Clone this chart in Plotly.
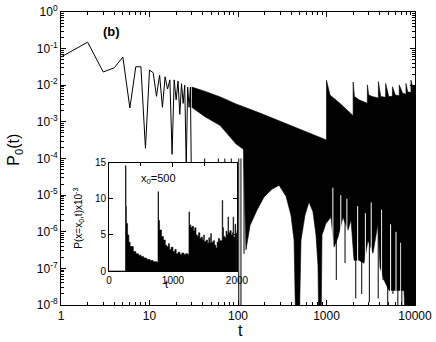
import numpy as np
import plotly.graph_objects as go

# early part of P0(t), one value per time step
t_early = list(range(1, 31))
p_early = [5.9e-2, 1.5e-1, 2.3e-2, 3.0e-2, 5.9e-2, 2.4e-3, 3.2e-2, 3.2e-2, 1.9e-4, 2.6e-2,
           2.2e-2, 5.0e-3, 1.9e-2, 2.5e-3, 1.7e-2, 7.9e-3, 1.4e-2, 1.3e-4, 1.4e-2, 4.0e-3,
           1.3e-2, 1.6e-3, 1.1e-2, 3.2e-3, 1.0e-2, 6.3e-5, 8.9e-3, 2.5e-3, 8.9e-3, 3.2e-6]

# dense part: upper envelope of the oscillations
upper_t = [30, 42, 63, 95, 177, 298, 502, 999, 1000, 1095, 1418, 1999, 2000, 2070, 2330,
           2890, 2900, 3000, 3300, 3850, 3860, 4100, 4650, 4665, 5050, 5550, 5560, 6000,
           6630, 6640, 7270, 7900, 7910, 8270, 8990, 9000, 9400, 10000]
upper_p = [8.9e-3, 6.9e-3, 4.8e-3, 3.1e-3, 1.74e-3, 1.05e-3, 6.3e-4, 3.2e-4, 1.38e-2, 5.4e-3,
           3.2e-3, 1.48e-3, 1.23e-2, 4.9e-3, 4.0e-3, 3.2e-3, 1.02e-2, 5.4e-3, 4.9e-3, 4.5e-3,
           1.26e-2, 4.9e-3, 4.7e-3, 1.12e-2, 4.9e-3, 5.0e-3, 9.1e-3, 5.4e-3, 5.2e-3, 1.02e-2,
           6.0e-3, 5.8e-3, 1.12e-2, 6.6e-3, 6.3e-3, 1.38e-2, 9.1e-3, 1.02e-2]

# lower envelope of the minima (1e-9 = runs off the bottom of the axis)
lower_t = [30, 42, 63, 95, 115, 123, 137, 164, 197, 242, 291, 349, 397, 430, 452, 489, 515,
           571, 634, 703, 761, 801, 823, 867, 889, 987, 1125, 1216, 1349, 1536, 1749, 1892,
           2046, 2330, 2653, 2943, 3352, 3818, 4024, 4464, 5085, 7509, 7913, 10000]
lower_p = [2.5e-3, 1.4e-3, 7.9e-4, 2.5e-4, 1.8e-4, 3.2e-7, 1.5e-6, 3.9e-6, 8.9e-6, 1.45e-5,
           1.86e-5, 9.3e-6, 2.8e-6, 5.9e-7, 1e-9, 1e-9, 5.9e-7, 2.8e-6, 6.5e-6, 3.5e-6,
           8.1e-7, 1.2e-7, 1e-9, 1e-9, 8.1e-7, 1.7e-6, 2.5e-6, 3.8e-7, 7.1e-7, 2.5e-6,
           1.1e-6, 2.1e-6, 1.66e-7, 1.66e-7, 1.38e-7, 5.9e-7, 2.6e-7, 1.7e-6, 1.07e-7,
           4.8e-8, 2.5e-8, 2.5e-8, 1e-9, 1e-9]

# isolated deep minima below the lower envelope
spike_t = [42, 60, 71, 84, 102, 108, 117, 1290, 1620, 2140, 2500, 3050, 3840, 4350, 4920,
           5630, 6400, 7100]
spike_p = [1.2e-7, 1.2e-7, 1.2e-7, 1.2e-7, 1e-9, 1e-9, 2.5e-7, 4.8e-8, 1.4e-7, 1.5e-8,
           2e-8, 1.2e-8, 1.5e-8, 4.8e-8, 1e-9, 2e-8, 1e-9, 1e-9]
SPIKE_TOP = 1e-4

# narrow white gaps between neighbouring minima (top of each gap)
gap_t = [1180, 1450, 1700, 2250, 2750, 3200, 4200, 5300, 6100, 6900]
gap_p = [1.6e-5, 1.0e-5, 7.9e-6, 5.0e-6, 3.2e-6, 6.3e-6, 4.0e-6, 1.6e-6, 1.0e-6, 5.0e-7]
GAP_BOTTOM = 1e-9

# inset: P(x=x0,t) x 10^-3, x0 = 500
inset_t = [0, 258, 266, 272, 290, 310, 330, 380, 420, 460, 500, 540, 590, 640, 690, 745,
           766, 774, 790, 820, 850, 880, 900, 930, 945, 970, 1000, 1030, 1050, 1080, 1110,
           1140, 1170, 1200, 1230, 1250, 1258, 1280, 1300, 1320, 1340, 1360, 1380, 1400,
           1420, 1440, 1460, 1480, 1490, 1520, 1540, 1560, 1575, 1590, 1600, 1630, 1650,
           1670, 1690, 1710, 1730, 1770, 1778, 1790, 1810, 1830, 1845, 1860, 1868, 1890,
           1910, 1930, 1940, 1948, 1970, 1980, 2000]
inset_p = [0, 14.6, 9.0, 6.6, 5.0, 4.0, 3.4, 2.7, 2.4, 2.2, 2.0, 1.8, 1.6, 1.45, 1.3, 1.2,
           11.0, 7.0, 5.7, 4.8, 4.3, 3.6, 3.4, 3.8, 3.0, 3.3, 2.7, 3.0, 2.4, 2.6, 2.3,
           2.5, 2.3, 2.4, 2.3, 8.2, 6.4, 6.0, 6.2, 5.6, 6.0, 5.0, 4.8, 5.3,
           4.5, 4.7, 4.3, 5.0, 4.1, 4.3, 3.9, 4.6, 3.9, 5.2, 4.0, 4.2, 3.6,
           3.2, 4.0, 4.5, 4.2, 9.8, 6.0, 4.8, 4.6, 5.5, 5.0, 7.5, 5.3, 5.6,
           5.0, 5.3, 7.5, 4.7, 6.5, 5.2, 5.6]

FONT = "Liberation Sans, Arial, sans-serif"


def vlines(ts, a, b):
    xs, ys = [], []
    for i, t in enumerate(ts):
        ya = a[i] if isinstance(a, list) else a
        yb = b[i] if isinstance(b, list) else b
        xs += [t, t, None]
        ys += [ya, yb, None]
    return xs, ys


fig = go.Figure()

# black band between the envelopes
fig.add_trace(go.Scatter(x=upper_t + lower_t[::-1], y=upper_p + lower_p[::-1],
                         mode="lines", fill="toself", fillcolor="black",
                         line=dict(color="black", width=0.6), hoverinfo="skip"))

gx, gy = vlines(gap_t, gap_p, GAP_BOTTOM)
fig.add_trace(go.Scatter(x=gx, y=gy, mode="lines", line=dict(color="white", width=1)))

sx, sy = vlines(spike_t, SPIKE_TOP, spike_p)
fig.add_trace(go.Scatter(x=sx, y=sy, mode="lines", line=dict(color="black", width=1)))

fig.add_trace(go.Scatter(x=t_early, y=p_early, mode="lines",
                         line=dict(color="black", width=1)))

# inset
fig.add_trace(go.Scatter(x=inset_t, y=inset_p, mode="lines", line_shape="hv",
                         fill="tozeroy", fillcolor="black",
                         line=dict(color="black", width=0.6),
                         xaxis="x2", yaxis="y2"))

minor_x = [m * 10 ** k for k in range(4) for m in range(2, 10)]
minor_y = [m * 10.0 ** k for k in range(-8, 0) for m in range(2, 10)]

axis_common = dict(showline=True, linecolor="black", linewidth=1, mirror="allticks",
                   ticks="inside", tickcolor="black", showgrid=False, zeroline=False,
                   automargin=False,
                   tickfont=dict(family=FONT, size=12, color="black"))
inset_font = dict(family=FONT, size=10, color="black")


def label(text, x, y, size, ref=("paper", "paper"), angle=0, bold=False):
    return dict(text=text, x=x, y=y, xref=ref[0], yref=ref[1], textangle=angle,
                xanchor="center", yanchor="middle", showarrow=False,
                font=dict(family=FONT, size=size, color="black"))


fig.update_layout(
    width=436, height=342,
    margin=dict(l=61, r=21, t=12, b=37),
    paper_bgcolor="white", plot_bgcolor="white",
    showlegend=False,
    xaxis=dict(type="log", range=[0, 4], ticklen=5,
               tickvals=[1, 10, 100, 1000, 10000],
               ticktext=["1", "10", "100", "1000", "10000"],
               minor=dict(ticks="inside", ticklen=3, tickcolor="black", tickvals=minor_x),
               **axis_common),
    yaxis=dict(type="log", range=[-8, 0], ticklen=5,
               tickvals=[10.0 ** -k for k in range(9)],
               ticktext=["10<sup>0</sup>"] + ["10<sup>-%d</sup>" % k for k in range(1, 9)],
               minor=dict(ticks="inside", ticklen=3, tickcolor="black", tickvals=minor_y),
               **axis_common),
    xaxis2=dict(domain=[0.1356, 0.497], anchor="y2", range=[0, 2000], ticklen=4,
                tickvals=[0, 1000, 2000],
                minor=dict(ticks="inside", ticklen=3, tickcolor="black", dtick=500),
                **{**axis_common, "tickfont": inset_font}),
    yaxis2=dict(domain=[0.116, 0.485], anchor="x2", range=[0, 15], ticklen=4,
                tickvals=[0, 5, 10, 15],
                **{**axis_common, "tickfont": inset_font}),
    annotations=[
        label("<b>(b)</b>", 0.144, 0.935, 13),
        label("P<sub>0</sub>(t)", -0.13, 0.53, 16, angle=-90),
        label("t", 0.506, -0.088, 16),
        label("x<sub>0</sub>=500", 766, 12.8, 11, ref=("x2", "y2")),
        label("P(x=x<sub>0</sub>,t)x10<sup>-3</sup>", 0.05, 0.297, 10, angle=-90),
        label("t", 0.297, 0.07, 11),
    ],
)

# the page body has a default margin; drop it so the figure sits at the corner
fig.write_html("out.html", config={"displayModeBar": False},
               post_script="document.body.style.margin='0px';")
